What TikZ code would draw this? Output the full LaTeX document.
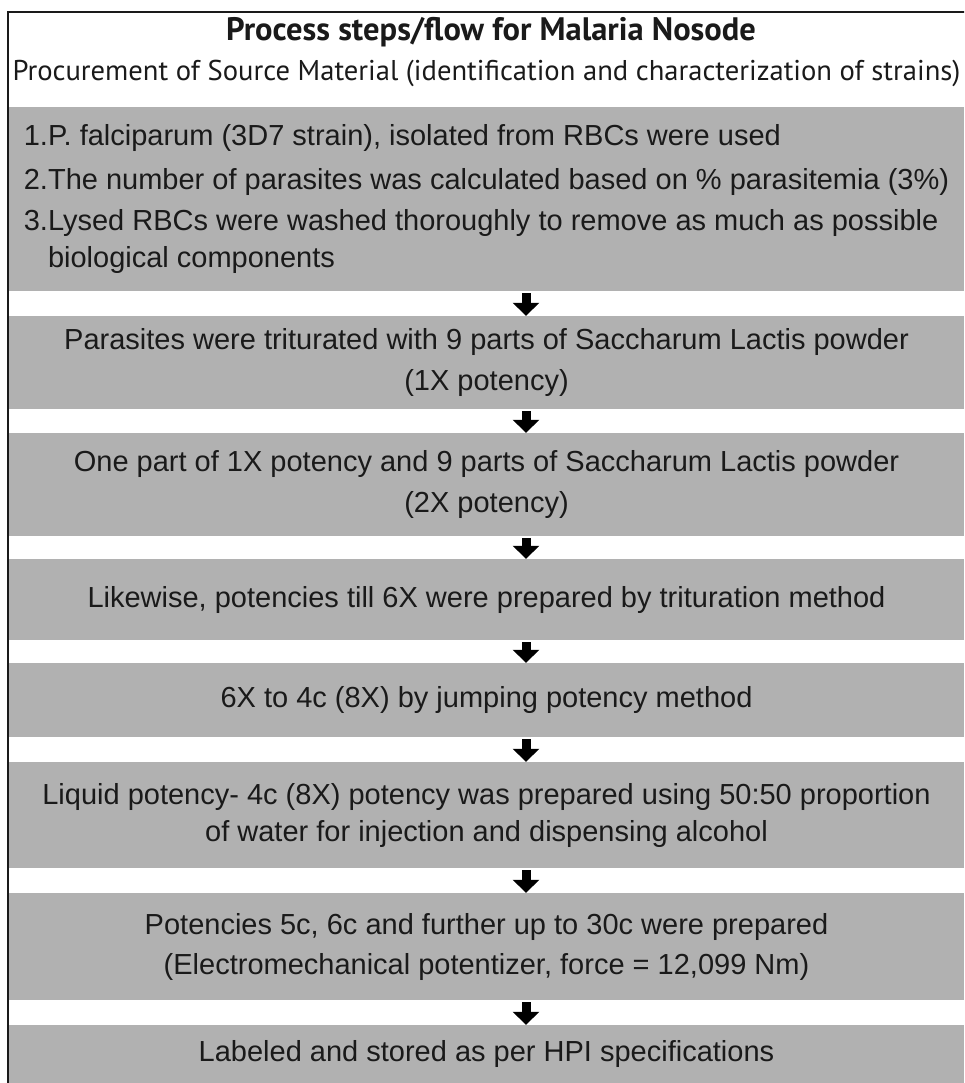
\documentclass[tikz,border=0pt]{standalone}
\usepackage{fontspec}
\setmainfont{Liberation Sans}
\newfontfamily\headfont{PT Sans}
\usetikzlibrary{arrows.meta, positioning}

\definecolor{boxgray}{RGB}{177,177,177}
\definecolor{inkgray}{RGB}{26,26,26}

\tikzset{
    stepbox/.style={fill=boxgray, minimum width=955pt, inner sep=0pt, align=center,
        text=inkgray, font=\fontsize{29}{37}\selectfont},
    flowarrow/.style={line width=9pt, -{Triangle[width=26pt,length=13pt]}, shorten <=2pt}
}

\begin{document}
\begin{tikzpicture}[x=1pt, y=-1pt]
    \useasboundingbox (0,0) rectangle (964,1083);
    \clip (0,0) rectangle (964,1083);

    % heading
    \node[font=\headfont\bfseries\fontsize{32.5}{38}\selectfont, text=inkgray] (title) at (491,32) {Process steps/flow for Malaria Nosode};
    \node[font=\headfont\fontsize{28.6}{34}\selectfont, text=inkgray] (subtitle) at (486.5,73) {Procurement of Source Material (identification and characterization of strains)};

    % steps
    \node[stepbox, minimum height=184pt, align=left] (src) at (486.5,199)
        {1.P. falciparum (3D7 strain), isolated from RBCs were used\\[7pt]
         2.The number of parasites was calculated based on \% parasitemia (3\%)\\[4pt]
         3.Lysed RBCs were washed thoroughly to remove as much as possible\\
         \phantom{3.}biological components};
    \node[stepbox, minimum height=93pt] (x1) at (486.5,362.5)
        {Parasites were triturated with 9 parts of Saccharum Lactis powder\\[3pt] (1X potency)};
    \node[stepbox, minimum height=103pt] (x2) at (486.5,484.5)
        {One part of 1X potency and 9 parts of Saccharum Lactis powder\\[4pt] (2X potency)};
    \node[stepbox, minimum height=81pt] (x6) at (486.5,599.5)
        {Likewise, potencies till 6X were prepared by trituration method};
    \node[stepbox, minimum height=74pt] (c4) at (486.5,700)
        {6X to 4c (8X) by jumping potency method};
    \node[stepbox, minimum height=106pt] (liq) at (486.5,815)
        {Liquid potency- 4c (8X) potency was prepared using 50:50 proportion\\ of water for injection and dispensing alcohol};
    \node[stepbox, minimum height=107pt] (c30) at (486.5,946.5)
        {Potencies 5c, 6c and further up to 30c were prepared\\[3pt] (Electromechanical potentizer, force = 12,099 Nm)};
    \node[stepbox, minimum height=58pt] (store) at (486.5,1054)
        {Labeled and stored as per HPI specifications};

    % arrows
    \coordinate (ax) at (526,0);
    \draw[flowarrow] (src.south -| ax) -- (x1.north -| ax);
    \draw[flowarrow] (x1.south -| ax) -- (x2.north -| ax);
    \draw[flowarrow] (x2.south -| ax) -- (x6.north -| ax);
    \draw[flowarrow] (x6.south -| ax) -- (c4.north -| ax);
    \draw[flowarrow] (c4.south -| ax) -- (liq.north -| ax);
    \draw[flowarrow] (liq.south -| ax) -- (c30.north -| ax);
    \draw[flowarrow] (c30.south -| ax) -- (store.north -| ax);

    % frame
    \draw[line width=1.5pt, draw=inkgray] (8,1100) -- (8,12) -- (1000,12);
\end{tikzpicture}
\end{document}
